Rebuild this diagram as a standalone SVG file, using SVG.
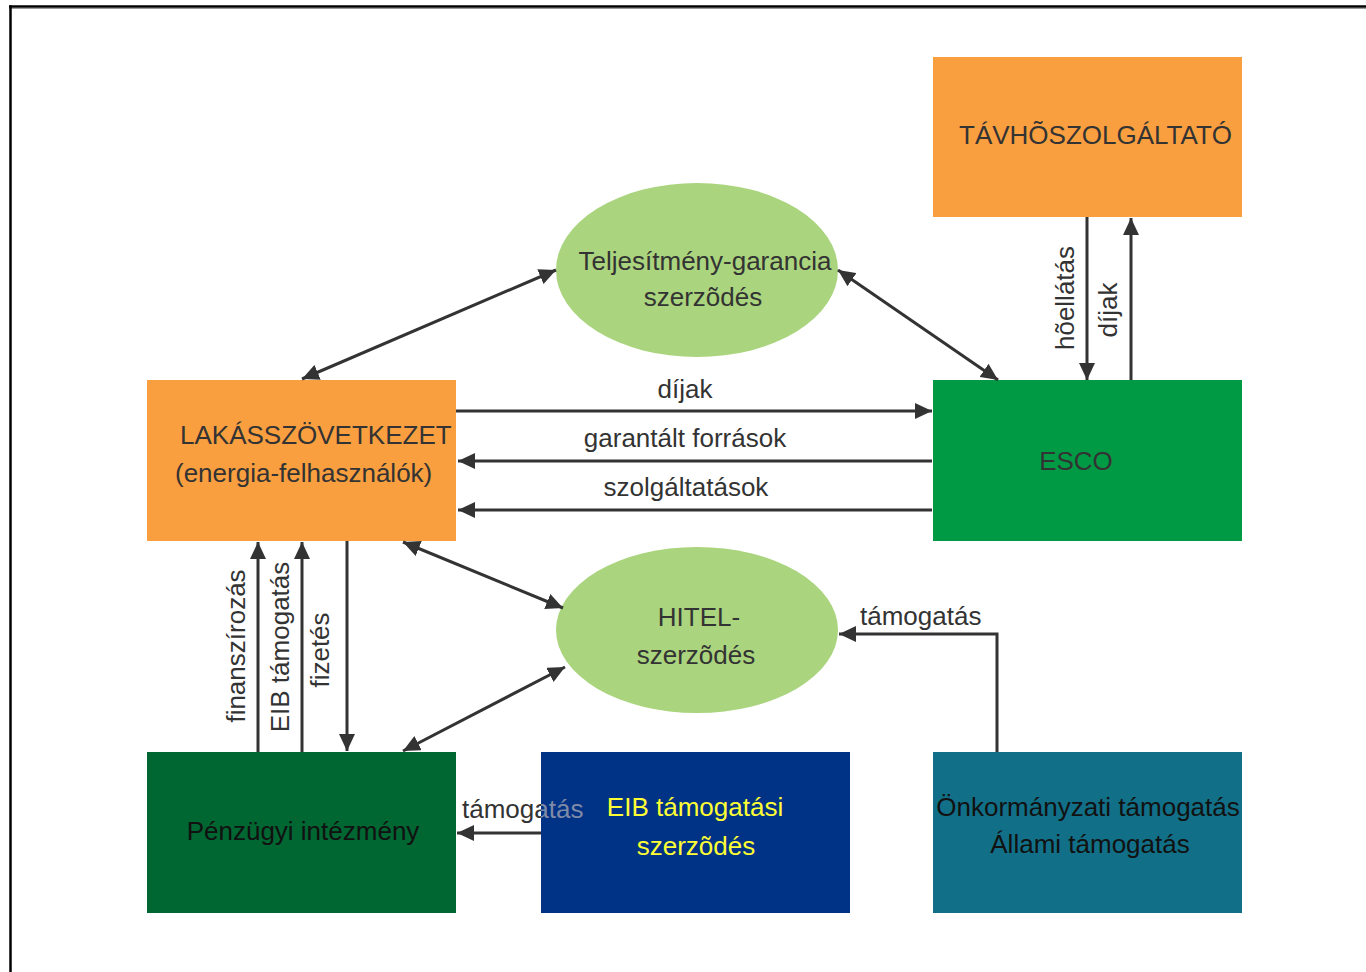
<svg xmlns="http://www.w3.org/2000/svg" width="1366" height="972" viewBox="0 0 1366 972">
<style>
  text { font-family: "Liberation Sans", Arial, sans-serif; font-size: 26px; fill: #333333; }
  .mid { text-anchor: middle; }
  .yel { fill: #ffff33; }
  .blk { fill: #111111; }
  .conn { stroke: #333333; stroke-width: 3; fill: none; }
  .arr { marker-end: url(#ah); }
  .dbl { marker-end: url(#ah); marker-start: url(#ahs); }
</style>
<defs>
  <marker id="ah" markerUnits="userSpaceOnUse" markerWidth="18" markerHeight="16" refX="17" refY="8" orient="auto">
    <path d="M0,0 L17,8 L0,16 z" fill="#333333"/>
  </marker>
  <marker id="ahs" markerUnits="userSpaceOnUse" markerWidth="18" markerHeight="16" refX="17" refY="8" orient="auto-start-reverse">
    <path d="M0,0 L17,8 L0,16 z" fill="#333333"/>
  </marker>
  <clipPath id="leftOfEIB"><rect x="0" y="780" width="541" height="60"/></clipPath>
  <clipPath id="overEIB"><rect x="541" y="780" width="100" height="60"/></clipPath>
</defs>
<rect x="0" y="0" width="1366" height="972" fill="#ffffff"/>
<g id="frame">
  <line x1="9" y1="6.5" x2="1366" y2="6.5" stroke="#000000" stroke-width="2.5"/>
  <line x1="9" y1="8.5" x2="1366" y2="8.5" stroke="#9a9a9a" stroke-width="1"/>
  <line x1="10.5" y1="5.5" x2="10.5" y2="972" stroke="#000000" stroke-width="2.5"/>
</g>

<g id="tavho">
  <rect x="933" y="57" width="309" height="160" fill="#fa9f40"/>
  <text x="959" y="144">TÁVHÕSZOLGÁLTATÓ</text>
</g>
<g id="lakas">
  <rect x="147" y="380" width="309" height="161" fill="#fa9f40"/>
  <text x="180" y="444">LAKÁSSZÖVETKEZET</text>
  <text x="175" y="482">(energia-felhasználók)</text>
</g>
<g id="esco">
  <rect x="933" y="380" width="309" height="161" fill="#009a45"/>
  <text class="mid" x="1076" y="470">ESCO</text>
</g>
<g id="garancia">
  <ellipse cx="697" cy="270" rx="141" ry="87" fill="#aad47d"/>
  <text class="mid" x="705" y="270">Teljesítmény-garancia</text>
  <text class="mid" x="703" y="306">szerzõdés</text>
</g>
<g id="hitel">
  <ellipse cx="697" cy="630" rx="141" ry="83" fill="#aad47d"/>
  <text class="mid" x="699" y="626">HITEL-</text>
  <text class="mid" x="696" y="664">szerzõdés</text>
</g>
<g id="penzugyi">
  <rect x="147" y="752" width="309" height="161" fill="#006632"/>
  <text class="mid blk" x="303" y="840">Pénzügyi intézmény</text>
</g>
<g id="eib">
  <rect x="541" y="752" width="309" height="161" fill="#003286"/>
  <text class="mid yel" x="695" y="816">EIB támogatási</text>
  <text class="mid yel" x="696" y="855">szerzõdés</text>
</g>
<g id="onkormanyzat">
  <rect x="933" y="752" width="309" height="161" fill="#117088"/>
  <text class="mid blk" x="1088" y="816">Önkormányzati támogatás</text>
  <text class="mid blk" x="1090" y="853">Állami támogatás</text>
</g>

<g id="connectors">
  <line class="conn dbl" x1="556" y1="270" x2="302" y2="379"/>
  <line class="conn dbl" x1="838" y1="270" x2="998" y2="380"/>
  <line class="conn arr" x1="456" y1="411" x2="932" y2="411"/>
  <line class="conn arr" x1="932" y1="461" x2="458" y2="461"/>
  <line class="conn arr" x1="932" y1="510" x2="458" y2="510"/>
  <line class="conn arr" x1="1087" y1="217" x2="1087" y2="380"/>
  <line class="conn arr" x1="1131" y1="380" x2="1131" y2="218"/>
  <line class="conn arr" x1="258" y1="752" x2="258" y2="542"/>
  <line class="conn arr" x1="302" y1="752" x2="302" y2="542"/>
  <line class="conn arr" x1="347" y1="541" x2="347" y2="751"/>
  <line class="conn dbl" x1="563" y1="608" x2="403" y2="542"/>
  <line class="conn dbl" x1="565" y1="667" x2="403" y2="751"/>
  <line class="conn arr" x1="541" y1="833" x2="457" y2="833"/>
  <polyline class="conn arr" points="997,752 997,634 839,634"/>

  <text class="mid" x="685" y="398">díjak</text>
  <text class="mid" x="685" y="447">garantált források</text>
  <text class="mid" x="686" y="496">szolgáltatások</text>
  <text class="mid" transform="translate(1074,298) rotate(-90)">hõellátás</text>
  <text class="mid" transform="translate(1117,310) rotate(-90)">díjak</text>
  <text class="mid" transform="translate(245,646) rotate(-90)">finanszírozás</text>
  <text class="mid" transform="translate(289,647) rotate(-90)">EIB támogatás</text>
  <text class="mid" transform="translate(329,650) rotate(-90)">fizetés</text>
  <text x="860" y="625">támogatás</text>
  <text x="462" y="818" clip-path="url(#leftOfEIB)">támogatás</text>
  <text x="462" y="818" clip-path="url(#overEIB)" style="fill:#7f8aa6">támogatás</text>
</g>
</svg>
